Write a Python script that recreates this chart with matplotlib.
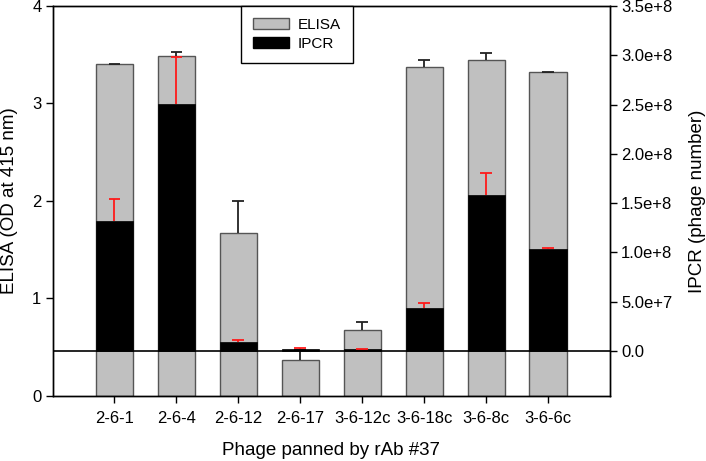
import matplotlib
matplotlib.use("Agg")
import matplotlib.pyplot as plt
from matplotlib.patches import Patch
import numpy as np

plt.rcParams['font.family'] = ['Liberation Sans', 'DejaVu Sans']

categories = ["2-6-1", "2-6-4", "2-6-12", "2-6-17", "3-6-12c", "3-6-18c", "3-6-8c", "3-6-6c"]
elisa = [3.40, 3.49, 1.67, 0.37, 0.68, 3.37, 3.45, 3.32]
elisa_err = [0.01, 0.04, 0.33, 0.10, 0.08, 0.08, 0.07, 0.005]
ipcr = [1.32e8, 2.51e8, 0.094e8, 0.024e8, 0.017e8, 0.433e8, 1.579e8, 1.031e8]
ipcr_err = [0.22e8, 0.475e8, 0.021e8, 0.003e8, 0.003e8, 0.051e8, 0.23e8, 0.01e8]

fig = plt.figure(figsize=(7.06, 4.61), dpi=100)
ax = fig.add_subplot(111)
fig.subplots_adjust(left=0.0744, right=0.864, top=0.987, bottom=0.141)
ax2 = ax.twinx()

x = np.arange(len(categories))
w = 0.6
cap = 0.095
gray = '#c0c0c0'

ax.bar(x, elisa, width=w, color=gray, edgecolor='#555555', linewidth=1, zorder=2)
etop = np.array(elisa) + np.array(elisa_err)
ax.vlines(x, elisa, etop, color='#222222', linewidth=1.3, zorder=3)
ax.hlines(etop, x - cap, x + cap, color='#222222', linewidth=1.3, zorder=3)

ax2.bar(x, ipcr, width=w, color='black', edgecolor='black', linewidth=0.5, zorder=2)
itop = np.array(ipcr) + np.array(ipcr_err)
ax2.vlines(x, ipcr, itop, color='#ff1a1a', linewidth=1.3, zorder=3)
ax2.hlines(itop, x - cap, x + cap, color='#ff1a1a', linewidth=1.3, zorder=3)
ax2.axhline(0, color='black', linewidth=1.2, zorder=4)

ax.set_xlim(-1, 8)
ax.set_ylim(0, 4)
ax2.set_ylim(-0.456e8, 3.5e8)

ax.set_yticks([0, 1, 2, 3, 4])
ax.set_xticks(x)
ax.set_xticklabels(categories)
rticks = np.arange(0, 3.51e8, 0.5e8)
ax2.set_yticks(rticks)
ax2.set_yticklabels([f"{v:.1e}".replace("e+07", "e+7").replace("e+08", "e+8") if v != 0 else "0.0"
                     for v in rticks])

for a in (ax, ax2):
    a.tick_params(direction='out', length=5, width=1, labelsize=12, pad=3)
    for s in a.spines.values():
        s.set_linewidth(1)
        s.set_color('black')
ax.tick_params(axis='x', pad=6)

ax.set_xlabel("Phage panned by rAb #37", fontsize=13.5, labelpad=11)
ax.set_ylabel("ELISA (OD at 415 nm)", fontsize=13.5, labelpad=10)
ax2.set_ylabel("IPCR (phage number)", fontsize=13.5, labelpad=12)

handles = [Patch(facecolor=gray, edgecolor='#555555', label='ELISA'),
           Patch(facecolor='black', edgecolor='black', label='IPCR')]
leg = ax2.legend(handles=handles, loc='upper left', bbox_to_anchor=(0.338, 1.0),
                 fancybox=False, framealpha=1, edgecolor='black', fontsize=11,
                 handlelength=2.35, handleheight=0.75, borderpad=0.8, labelspacing=0.3,
                 handletextpad=0.55, borderaxespad=0)
leg.get_frame().set_linewidth(1)

fig.savefig("out.png", dpi=100)
